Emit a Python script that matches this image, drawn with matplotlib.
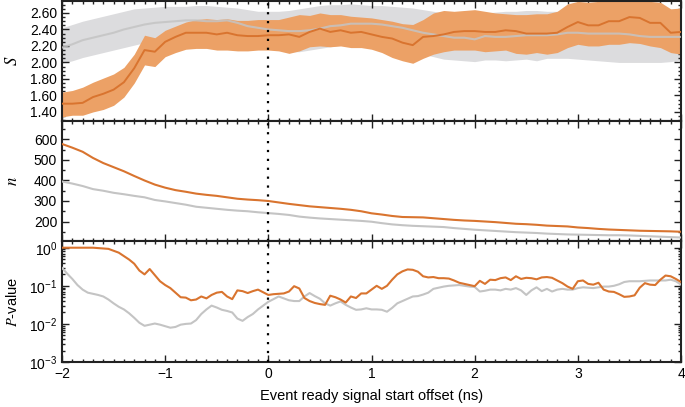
import numpy as np
import matplotlib
matplotlib.use('Agg')
import matplotlib.pyplot as plt
from matplotlib.ticker import MultipleLocator, FormatStrFormatter, LogLocator

plt.rcParams['font.family'] = ['Liberation Sans', 'DejaVu Sans']
plt.rcParams['mathtext.fontset'] = 'stix'

# offsets (ns), 0.1 ns step for S and n
x = np.round(np.arange(-2.0, 4.0001, 0.1), 2)

s_orange = [1.50, 1.50, 1.51, 1.58, 1.62, 1.67, 1.76, 1.93, 2.15, 2.13,
            2.25, 2.31, 2.36, 2.36, 2.36, 2.34, 2.36, 2.33, 2.32, 2.32,
            2.33, 2.33, 2.34, 2.31, 2.37, 2.41, 2.37, 2.39, 2.36, 2.37,
            2.34, 2.31, 2.29, 2.24, 2.21, 2.31, 2.32, 2.34, 2.37, 2.38,
            2.38, 2.37, 2.37, 2.39, 2.38, 2.35, 2.35, 2.35, 2.36, 2.43,
            2.49, 2.45, 2.45, 2.50, 2.50, 2.55, 2.54, 2.48, 2.48, 2.36, 2.37]
s_orange_hi = [1.64, 1.66, 1.70, 1.76, 1.81, 1.86, 1.94, 2.10, 2.33, 2.30,
               2.39, 2.44, 2.49, 2.52, 2.53, 2.52, 2.53, 2.51, 2.51, 2.52,
               2.52, 2.52, 2.55, 2.58, 2.57, 2.60, 2.58, 2.58, 2.56, 2.55,
               2.54, 2.52, 2.50, 2.47, 2.46, 2.52, 2.60, 2.63, 2.62, 2.63,
               2.64, 2.62, 2.60, 2.59, 2.58, 2.58, 2.59, 2.59, 2.62, 2.71,
               2.74, 2.73, 2.74, 2.74, 2.74, 2.75, 2.75, 2.74, 2.73, 2.65, 2.66]
s_orange_lo = [1.34, 1.36, 1.36, 1.40, 1.43, 1.48, 1.58, 1.75, 1.97, 1.95,
               2.07, 2.12, 2.16, 2.17, 2.17, 2.15, 2.15, 2.14, 2.14, 2.15,
               2.15, 2.14, 2.11, 2.14, 2.19, 2.20, 2.19, 2.20, 2.18, 2.18,
               2.16, 2.12, 2.06, 2.02, 1.99, 2.05, 2.10, 2.13, 2.15, 2.15,
               2.15, 2.13, 2.14, 2.15, 2.11, 2.10, 2.12, 2.10, 2.12, 2.18,
               2.22, 2.20, 2.20, 2.22, 2.22, 2.24, 2.23, 2.20, 2.18, 2.12, 2.10]

s_gray = [2.18, 2.22, 2.27, 2.30, 2.33, 2.36, 2.40, 2.43, 2.46, 2.48,
          2.49, 2.50, 2.51, 2.51, 2.50, 2.50, 2.51, 2.48, 2.44, 2.42,
          2.40, 2.39, 2.38, 2.38, 2.39, 2.41, 2.44, 2.45, 2.47, 2.47,
          2.47, 2.46, 2.44, 2.42, 2.39, 2.36, 2.34, 2.32, 2.30, 2.30,
          2.28, 2.32, 2.31, 2.31, 2.32, 2.33, 2.33, 2.33, 2.34, 2.36,
          2.36, 2.35, 2.35, 2.35, 2.35, 2.34, 2.32, 2.31, 2.31, 2.31, 2.31]
s_gray_hi = [2.42, 2.46, 2.50, 2.53, 2.56, 2.59, 2.62, 2.65, 2.66, 2.67,
             2.68, 2.68, 2.68, 2.69, 2.69, 2.68, 2.67, 2.66, 2.64, 2.62,
             2.62, 2.62, 2.63, 2.65, 2.67, 2.69, 2.70, 2.70, 2.71, 2.70,
             2.69, 2.69, 2.68, 2.67, 2.66, 2.64, 2.62, 2.60, 2.59, 2.58,
             2.58, 2.60, 2.61, 2.62, 2.62, 2.63, 2.63, 2.62, 2.62, 2.63,
             2.64, 2.64, 2.64, 2.64, 2.64, 2.64, 2.63, 2.63, 2.63, 2.64, 2.65]
s_gray_lo = [1.99, 2.02, 2.06, 2.09, 2.12, 2.15, 2.18, 2.21, 2.24, 2.26,
             2.28, 2.30, 2.30, 2.30, 2.30, 2.30, 2.31, 2.27, 2.22, 2.20,
             2.18, 2.16, 2.13, 2.13, 2.15, 2.17, 2.19, 2.21, 2.23, 2.24,
             2.24, 2.23, 2.22, 2.18, 2.14, 2.10, 2.07, 2.04, 2.03, 2.02,
             2.01, 2.03, 2.03, 2.02, 2.03, 2.04, 2.02, 2.05, 2.05, 2.05,
             2.04, 2.03, 2.02, 2.01, 2.00, 2.00, 2.00, 2.00, 2.00, 2.01, 2.03]

n_orange = [578, 560, 540, 510, 485, 465, 445, 422, 400, 380,
            365, 353, 345, 336, 330, 325, 318, 311, 307, 304,
            300, 293, 286, 280, 274, 270, 266, 262, 257, 250,
            240, 234, 227, 222, 221, 220, 216, 212, 208, 205,
            203, 200, 197, 193, 189, 187, 184, 180, 178, 176,
            171, 168, 164, 161, 159, 157, 155, 154, 153, 152, 150]
n_gray = [395, 385, 373, 358, 350, 340, 333, 325, 318, 305,
          298, 290, 282, 272, 267, 262, 257, 253, 250, 245,
          241, 237, 232, 224, 219, 215, 212, 209, 206, 203,
          199, 192, 186, 182, 179, 177, 175, 173, 168, 164,
          160, 157, 154, 151, 148, 146, 144, 141, 139, 137,
          136, 135, 134, 133, 133, 132, 130, 128, 126, 124, 122]

# P-values as log10 exponents, 0.05 ns step
xp = np.round(np.arange(-2.0, 4.0001, 0.05), 3)
p_orange_exp = [0.00, 0.00, 0.00, 0.00, 0.00, 0.00, 0.00, -0.01, -0.02, -0.03,
                -0.08, -0.13, -0.22, -0.31, -0.42, -0.60, -0.70, -0.56, -0.72, -0.88,
                -0.98, -1.06, -1.18, -1.30, -1.31, -1.38, -1.36, -1.28, -1.33, -1.24,
                -1.18, -1.16, -1.28, -1.35, -1.12, -1.14, -1.19, -1.14, -1.10, -1.17,
                -1.24, -1.22, -1.21, -1.20, -1.15, -1.01, -1.07, -1.32, -1.40, -1.45,
                -1.48, -1.50, -1.26, -1.30, -1.36, -1.44, -1.28, -1.32, -1.20, -1.20,
                -1.10, -1.00, -1.08, -1.00, -0.84, -0.70, -0.62, -0.57, -0.58, -0.63,
                -0.75, -0.78, -0.77, -0.80, -0.80, -0.81, -0.86, -0.92, -0.95, -0.98,
                -1.01, -0.87, -0.95, -0.84, -0.85, -0.80, -0.78, -0.85, -0.75, -0.82,
                -0.79, -0.80, -0.83, -0.78, -0.77, -0.79, -0.86, -0.93, -1.02, -1.08,
                -0.88, -0.86, -0.95, -0.97, -0.92, -1.10, -1.15, -1.16, -1.22, -1.29,
                -1.28, -1.25, -1.05, -0.93, -0.97, -0.98, -0.84, -0.73, -0.75, -0.82, -0.90]
p_gray_exp = [-0.53, -0.68, -0.82, -0.98, -1.10, -1.18, -1.21, -1.24, -1.28, -1.36,
              -1.46, -1.55, -1.62, -1.72, -1.84, -1.97, -2.05, -2.02, -1.99, -2.02,
              -2.06, -2.10, -2.08, -2.02, -2.00, -1.99, -1.90, -1.74, -1.62, -1.52,
              -1.57, -1.63, -1.66, -1.70, -1.86, -1.92, -1.82, -1.74, -1.62, -1.52,
              -1.42, -1.35, -1.28, -1.33, -1.38, -1.40, -1.40, -1.28, -1.19, -1.27,
              -1.34, -1.46, -1.52, -1.46, -1.41, -1.50, -1.57, -1.63, -1.62, -1.59,
              -1.62, -1.62, -1.63, -1.68, -1.58, -1.46, -1.40, -1.34, -1.28, -1.27,
              -1.23, -1.18, -1.08, -1.05, -1.02, -1.00, -0.99, -0.98, -1.00, -1.02,
              -1.03, -1.15, -1.13, -1.10, -1.10, -1.12, -1.08, -1.10, -1.06, -1.12,
              -1.24, -1.12, -1.04, -1.14, -1.08, -1.15, -1.10, -1.08, -1.10, -1.10,
              -1.06, -1.04, -1.05, -1.06, -1.04, -1.02, -1.02, -1.00, -0.96, -0.90,
              -0.88, -0.88, -0.88, -0.87, -0.86, -0.86, -0.86, -0.86, -0.84, -0.88, -0.97]

orange_line = '#d9742f'
orange_fill = '#eca166'
gray_line = '#c4c4c4'
gray_fill = '#dcdcde'

fig = plt.figure(figsize=(6.85, 4.07), dpi=100)
L, W = 62 / 685, 619 / 685
ax1 = fig.add_axes([L, 286 / 407, W, 120 / 407])
ax2 = fig.add_axes([L, 166 / 407, W, 120 / 407], sharex=ax1)
ax3 = fig.add_axes([L, 45 / 407, W, 121 / 407], sharex=ax1)

# S
ax1.fill_between(x, s_gray_lo, s_gray_hi, color=gray_fill, lw=0, zorder=1)
ax1.fill_between(x, s_orange_lo, s_orange_hi, color=orange_fill, lw=0, zorder=2)
ax1.plot(x, s_gray, color=gray_line, lw=1.5, alpha=0.85, zorder=3)
ax1.plot(x, s_orange, color=orange_line, lw=1.4, zorder=4)
ax1.set_ylim(1.29, 2.745)
ax1.yaxis.set_major_locator(MultipleLocator(0.2))
ax1.yaxis.set_minor_locator(MultipleLocator(0.05))
ax1.yaxis.set_major_formatter(FormatStrFormatter('%.2f'))
ax1.set_ylabel('$S$', fontsize=12)

# n
ax2.plot(x, n_gray, color=gray_line, lw=1.5, zorder=3)
ax2.plot(x, n_orange, color=orange_line, lw=1.5, zorder=4)
ax2.set_ylim(105, 690)
ax2.yaxis.set_major_locator(MultipleLocator(100))
ax2.yaxis.set_minor_locator(MultipleLocator(50))
ax2.set_ylabel('$n$', fontsize=12)

# P-value
ax3.plot(xp, 10.0 ** np.array(p_gray_exp), color=gray_line, lw=1.5, zorder=3)
ax3.plot(xp, 10.0 ** np.array(p_orange_exp), color=orange_line, lw=1.5, zorder=4)
ax3.set_yscale('log')
ax3.set_ylim(1e-3, 1.5)
ax3.yaxis.set_major_locator(LogLocator(base=10, numticks=10))
ax3.yaxis.set_minor_locator(LogLocator(base=10, subs=np.arange(2, 10), numticks=10))
ax3.set_ylabel('$P$-value', fontsize=10.5)
ax3.set_xlabel('Event ready signal start offset (ns)', fontsize=10.5, labelpad=6)

ax1.set_xlim(-2, 4)
ax3.xaxis.set_major_locator(MultipleLocator(1))
ax3.xaxis.set_minor_locator(MultipleLocator(0.1))

for ax in (ax1, ax2, ax3):
    ax.axvline(0, color='black', ls=(0, (1, 3)), lw=1.6, zorder=5)
    ax.tick_params(which='both', direction='in', top=True, right=True,
                   labelsize=10, width=1, colors='#222222', labelcolor='black')
    ax.tick_params(which='major', length=5)
    ax.tick_params(which='minor', length=2.5)
    for sp in ax.spines.values():
        sp.set_linewidth(1.5)
        sp.set_color('#222222')
    ax.yaxis.set_label_coords(-0.068, 0.5)
    ax.set_facecolor('white')

ax1.tick_params(labelbottom=False)
ax2.tick_params(labelbottom=False)

fig.savefig('out.png', dpi=100)
